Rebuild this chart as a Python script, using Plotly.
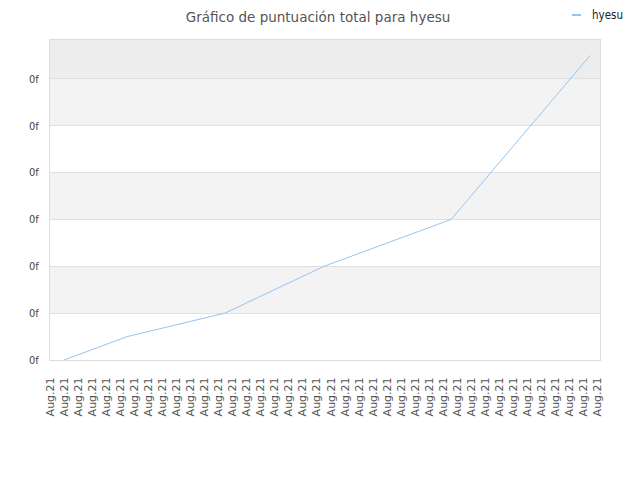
import plotly.graph_objects as go

# ---- data ----
categories = ["Aug.21"] * 40                 # x tick labels
point_pos = [1.0, 5.5, 12.45, 19.5, 28.55, 38.45]   # positions along the label axis
score = [0.0, 0.5, 1.0, 2.0, 3.0, 6.5]        # total score (grid units)
y_ticks = [0, 1, 2, 3, 4, 5, 6]
y_ticktext = ["0f"] * len(y_ticks)
series_name = "hyesu"
title_text = "Gráfico de puntuación total para hyesu"

LINE_COLOR = "#97c4f0"
Y_TOP = 6.83
OFF = 8  # page body margin in the browser

fig = go.Figure()
fig.add_trace(go.Scatter(
    x=point_pos, y=score, mode="lines", name=series_name,
    line=dict(color=LINE_COLOR, width=1), showlegend=False,
    hoverinfo="skip",
))

shapes = []
for lo, hi, col in [(1, 2, "#f3f3f3"), (3, 4, "#f3f3f3"), (5, 6, "#f3f3f3"), (6, Y_TOP, "#ededed")]:
    shapes.append(dict(type="rect", xref="paper", yref="y", x0=0, x1=1, y0=lo, y1=hi,
                       fillcolor=col, line=dict(width=0), layer="below"))
# legend sample line
LEG_Y = (360 - 15) / 320
shapes.append(dict(type="line", xref="paper", yref="paper",
                   x0=(572 - 50) / 550, x1=(581 - 50) / 550,
                   y0=LEG_Y, y1=LEG_Y,
                   line=dict(color=LINE_COLOR, width=2)))

fig.update_layout(
    width=640, height=480,
    margin=dict(l=50 - OFF, r=48, t=40 - OFF, b=128),
    paper_bgcolor="white", plot_bgcolor="white",
    title=dict(text=title_text, x=(318 - OFF) / 640, xanchor="center",
               y=1 - 9 / 480, yanchor="middle", pad=dict(t=0, b=0),
               font=dict(family="DejaVu Sans", size=13.5, color="#555555")),
    shapes=shapes,
    annotations=[dict(text=series_name, xref="paper", yref="paper",
                      x=(590 - 50) / 550, y=LEG_Y, xanchor="left", yanchor="middle",
                      showarrow=False,
                      font=dict(family="DejaVu Sans Condensed", size=11.5, color="#222222"))],
    showlegend=False,
)

fig.update_xaxes(
    range=[0, 39.15], tickmode="array", tickvals=list(range(len(categories))), ticktext=categories,
    tickangle=-90, ticks="outside", ticklen=12, tickcolor="rgba(0,0,0,0)",
    tickfont=dict(family="DejaVu Sans", size=11, color="#555555"),
    showgrid=False, zeroline=False,
    showline=True, mirror=True, linecolor="#dddddd", linewidth=1,
)
fig.update_yaxes(
    range=[0, Y_TOP], tickmode="array", tickvals=y_ticks, ticktext=y_ticktext,
    ticks="outside", ticklen=8, tickcolor="rgba(0,0,0,0)",
    tickfont=dict(family="DejaVu Sans Condensed", size=11, color="#444444"),
    showgrid=True, gridcolor="#e0e0e0", gridwidth=1, zeroline=False,
    showline=True, mirror=True, linecolor="#dddddd", linewidth=1,
)

fig.write_html("out.html")
